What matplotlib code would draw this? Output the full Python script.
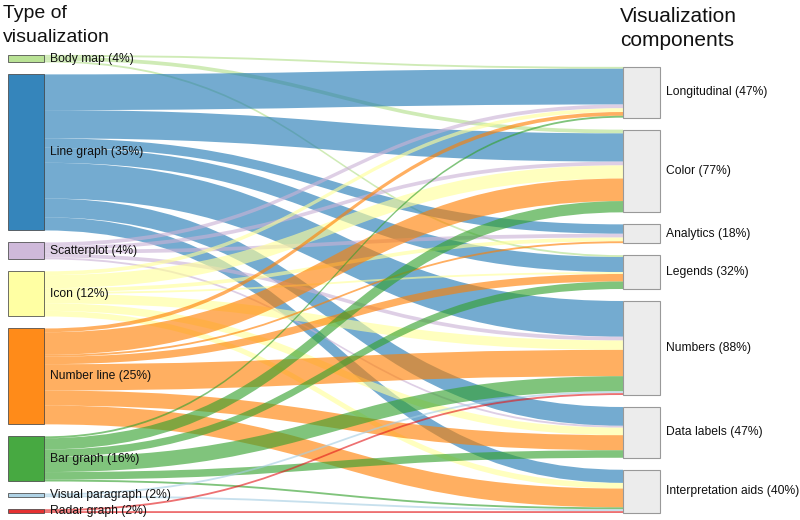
import matplotlib
matplotlib.use("Agg")
import matplotlib.pyplot as plt
from matplotlib.path import Path
from matplotlib.patches import PathPatch, Rectangle
import numpy as np

plt.rcParams['font.family'] = ['Liberation Sans', 'DejaVu Sans']

sources = ["Body map", "Line graph", "Scatterplot", "Icon", "Number line",
           "Bar graph", "Visual paragraph", "Radar graph"]
source_pct = ["4%", "35%", "4%", "12%", "25%", "16%", "2%", "2%"]
targets = ["Longitudinal", "Color", "Analytics", "Legends", "Numbers",
           "Data labels", "Interpretation aids"]
target_pct = ["47%", "77%", "18%", "32%", "88%", "47%", "40%"]

# flows[source][target]
flows = np.array([
    [1, 2, 0, 1, 0, 0, 0],      # Body map
    [19, 15, 5, 8, 19, 10, 7],  # Line graph
    [2, 2, 2, 0, 2, 1, 0],      # Scatterplot
    [2, 7, 2, 1, 5, 4, 3],      # Icon
    [2, 12, 1, 4, 14, 8, 10],   # Number line
    [1, 6, 0, 4, 8, 4, 1],      # Bar graph
    [0, 0, 0, 0, 1, 0, 1],      # Visual paragraph
    [0, 0, 0, 0, 1, 0, 1],      # Radar graph
])

src_colors = ["#b2df8a", "#1f78b4", "#cab2d6", "#ffff99", "#ff7f00",
              "#33a02c", "#a6cee3", "#e31a1c"]
tgt_color = "#ececec"

W, H = 800, 520
fig = plt.figure(figsize=(W / 100, H / 100), dpi=100)
ax = fig.add_axes([0, 0, 1, 1])
ax.set_xlim(0, W)
ax.set_ylim(H, 0)
ax.axis("off")

scale = 1.88
gap = 12.0
bottom = 513.0
xl0, xl1 = 8, 44
xr0, xr1 = 623, 660

def stack(vals):
    total = vals.sum() * scale + (len(vals) - 1) * gap
    y = bottom - total
    tops = []
    for v in vals:
        tops.append(y)
        y += v * scale + gap
    return np.array(tops)

src_vals = flows.sum(axis=1)
tgt_vals = flows.sum(axis=0)
src_tops = stack(src_vals)
tgt_tops = stack(tgt_vals)

# source-side offsets (ordered by target)
src_off = src_tops.copy()
links = []
for i in range(len(sources)):
    for j in range(len(targets)):
        v = flows[i, j]
        if v <= 0:
            continue
        h = v * scale
        links.append((i, j, src_off[i], h))
        src_off[i] += h
# target-side offsets (ordered by source)
tgt_off = tgt_tops.copy()
link_tgt = {}
for j in range(len(targets)):
    for i in range(len(sources)):
        v = flows[i, j]
        if v > 0:
            link_tgt[(i, j)] = tgt_off[j]
            tgt_off[j] += v * scale

xm = (xl1 + xr0) / 2
for (i, j, ys, h) in links:
    yt = link_tgt[(i, j)]
    verts = [(xl1, ys), (xm, ys), (xm, yt), (xr0, yt),
             (xr0, yt + h), (xm, yt + h), (xm, ys + h), (xl1, ys + h), (xl1, ys)]
    codes = [Path.MOVETO, Path.CURVE4, Path.CURVE4, Path.CURVE4,
             Path.LINETO, Path.CURVE4, Path.CURVE4, Path.CURVE4, Path.CLOSEPOLY]
    ax.add_patch(PathPatch(Path(verts, codes), facecolor=src_colors[i],
                           edgecolor="none", alpha=0.62, zorder=1))

# source nodes
for i, name in enumerate(sources):
    h = src_vals[i] * scale
    ax.add_patch(Rectangle((xl0, src_tops[i]), xl1 - xl0, h,
                           facecolor=src_colors[i], edgecolor="#444444",
                           linewidth=0.6, alpha=0.9, zorder=3))
    ax.text(xl1 + 6, src_tops[i] + h / 2, f"{name} ({source_pct[i]})",
            fontsize=8.7, va="center", ha="left", color="#111111", zorder=4)

# target nodes
for j, name in enumerate(targets):
    h = tgt_vals[j] * scale
    ax.add_patch(Rectangle((xr0, tgt_tops[j]), xr1 - xr0, h,
                           facecolor=tgt_color, edgecolor="#999999",
                           linewidth=0.8, zorder=3))
    ax.text(xr1 + 6, tgt_tops[j] + h / 2, f"{name} ({target_pct[j]})",
            fontsize=8.7, va="center", ha="left", color="#111111", zorder=4)

ax.text(3, 14, "Type of", fontsize=14, va="center", ha="left", color="#111111")
ax.text(3, 38, "visualization", fontsize=14, va="center", ha="left", color="#111111")
ax.text(620, 16, "Visualization", fontsize=15, va="center", ha="left", color="#111111")
ax.text(620, 40, "components", fontsize=15, va="center", ha="left", color="#111111")

fig.savefig("out.png", dpi=100)
